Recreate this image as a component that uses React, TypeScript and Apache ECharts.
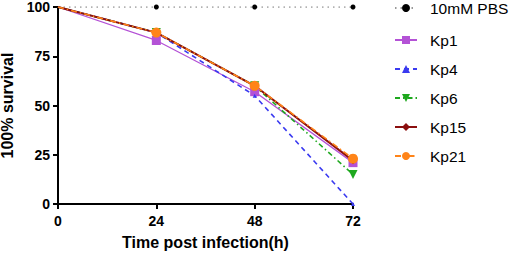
import React, { useEffect, useRef } from "react";
import * as echarts from "echarts";

const hours = [0, 24, 48, 72];
const pbs = [100, 100, 100, 100];
const kp1 = [100, 83, 57, 21];
const kp4 = [100, 87, 55, 0];
const kp6 = [100, 87, 60, 15];
const kp15 = [100, 87, 60, 22];
const kp21 = [100, 87, 60, 23];
const xTicks = [0, 24, 48, 72];
const yTicks = [0, 25, 50, 75, 100];

const pair = (ys: number[]) =>
  hours.map((h, i) => (i === 0 ? { value: [h, ys[i]], symbol: "none" } : { value: [h, ys[i]] }));

export default function App() {
  const ref = useRef<HTMLDivElement>(null);
  useEffect(() => {
    const chart = echarts.init(ref.current!, null, { renderer: "svg" });
    const font = "Liberation Sans, Arial, sans-serif";
    const legendBase = {
      orient: "vertical",
      left: 394,
      padding: 0,
      itemWidth: 22,
      itemHeight: 10,
      itemGap: 11,
      textStyle: { fontSize: 15.5, color: "#000", fontFamily: font, padding: [0, 0, 0, 8], lineHeight: 18 },
    };
    chart.setOption({
      animation: false,
      textStyle: { fontFamily: font },
      grid: { left: 58, right: 157, top: 7, bottom: 51, outerBoundsMode: "none", containLabel: false },
      xAxis: {
        type: "value",
        min: 0,
        max: 72,
        interval: 24,
        name: "Time post infection(h)",
        nameLocation: "middle",
        nameGap: 30,
        nameTextStyle: { fontSize: 16, fontWeight: "bold", color: "#000", fontFamily: font },
        axisLine: { lineStyle: { color: "#000", width: 2 } },
        axisTick: { show: true, length: 5, lineStyle: { color: "#000", width: 2 } },
        axisLabel: { fontSize: 14, fontWeight: "bold", color: "#000", margin: 10, fontFamily: font,
          formatter: (v: number) => (xTicks.includes(v) ? String(v) : "") },
        splitLine: { show: false },
      },
      yAxis: {
        type: "value",
        min: 0,
        max: 100,
        interval: 25,
        name: "100% survival",
        nameLocation: "middle",
        nameGap: 38,
        nameTextStyle: { fontSize: 16, lineHeight: 16, fontWeight: "bold", color: "#000", fontFamily: font },
        axisLine: { show: true, lineStyle: { color: "#000", width: 2 } },
        axisTick: { show: true, length: 5, lineStyle: { color: "#000", width: 2 } },
        axisLabel: { fontSize: 14, fontWeight: "bold", color: "#000", margin: 8, fontFamily: font,
          formatter: (v: number) => (yTicks.includes(v) ? String(v) : "") },
        splitLine: { show: false },
      },
      legend: [
        { ...legendBase, top: -1, data: ["10mM PBS"] },
        { ...legendBase, top: 31, data: ["Kp1", "Kp4", "Kp6", "Kp15", "Kp21"] },
      ],
      series: [
        {
          name: "10mM PBS", type: "line", data: pair(pbs),
          symbol: "circle", symbolSize: 5,
          itemStyle: { color: "#000" },
          lineStyle: { color: "#999", width: 1.5, type: [1.5, 4] },
        },
        {
          name: "Kp1", type: "line", data: pair(kp1),
          symbol: "rect", symbolSize: 9,
          itemStyle: { color: "#b452d6" },
          lineStyle: { color: "#b452d6", width: 1.3 },
        },
        {
          name: "Kp4", type: "line", data: pair(kp4),
          symbol: "triangle", symbolSize: 4,
          itemStyle: { color: "#3a3af0" },
          lineStyle: { color: "#3a3af0", width: 1.6, type: [5, 4] },
        },
        {
          name: "Kp6", type: "line", data: pair(kp6),
          symbol: "triangle", symbolSize: 9, symbolRotate: 180,
          itemStyle: { color: "#1ea81e" },
          lineStyle: { color: "#1ea81e", width: 1.6, type: [5, 3, 1.5, 3] },
        },
        {
          name: "Kp15", type: "line", data: pair(kp15),
          symbol: "diamond", symbolSize: 7,
          itemStyle: { color: "#8b0f0f" },
          lineStyle: { color: "#8b0f0f", width: 2 },
        },
        {
          name: "Kp21", type: "line", data: pair(kp21),
          symbol: "circle", symbolSize: 10,
          itemStyle: { color: "#ff8418" },
          lineStyle: { color: "#ff8418", width: 1.6, type: [6, 3, 1.5, 3] },
        },
      ],
    });
    return () => chart.dispose();
  }, []);
  return <div ref={ref} style={{ width: 510, height: 255, position: "absolute", left: 0, top: 0 }} />;
}
